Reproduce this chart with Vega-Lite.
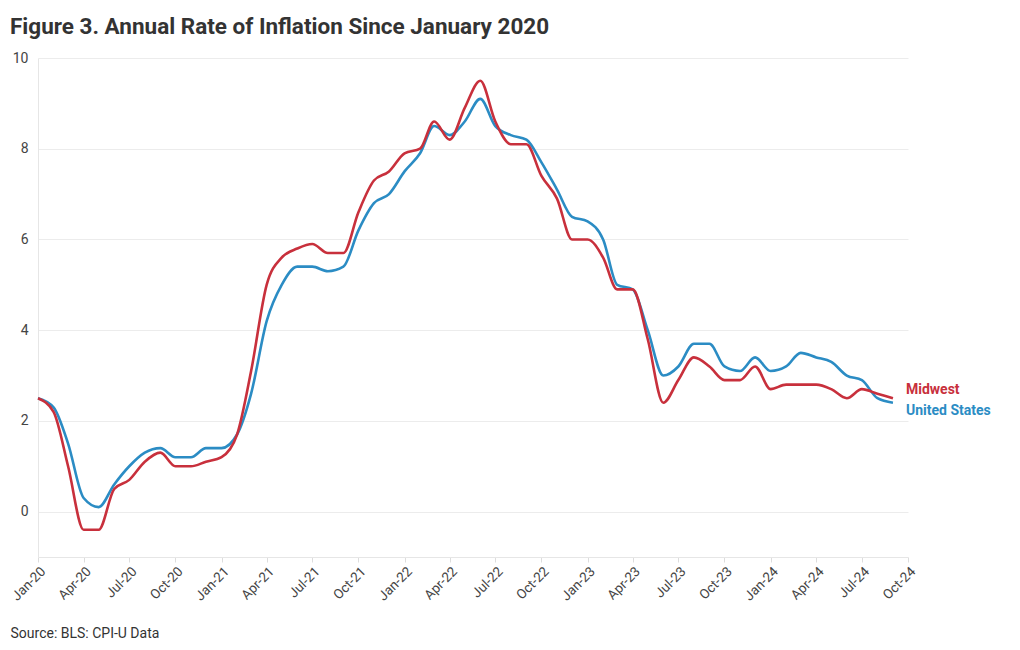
{
  "$schema": "https://vega.github.io/schema/vega-lite/v6.json",
  "width": 870,
  "height": 499,
  "autosize": {"type": "none"},
  "padding": {"left": 38, "top": 58, "right": 112, "bottom": 93},
  "background": "white",
  "config": {
    "view": {"stroke": null},
    "font": "Roboto"
  },
  "title": {
    "text": "Figure 3. Annual Rate of Inflation Since January 2020",
    "anchor": "start",
    "frame": "group",
    "dx": -28,
    "dy": 30,
    "offset": 25,
    "baseline": "alphabetic",
    "font": "Roboto",
    "fontSize": 22.5,
    "fontWeight": "bold",
    "color": "#333333"
  },
  "data": {
    "values": [
      {"date": "2020-01-01", "region": "United States", "value": 2.5},
      {"date": "2020-02-01", "region": "United States", "value": 2.3},
      {"date": "2020-03-01", "region": "United States", "value": 1.5},
      {"date": "2020-04-01", "region": "United States", "value": 0.3},
      {"date": "2020-05-01", "region": "United States", "value": 0.1},
      {"date": "2020-06-01", "region": "United States", "value": 0.6},
      {"date": "2020-07-01", "region": "United States", "value": 1.0},
      {"date": "2020-08-01", "region": "United States", "value": 1.3},
      {"date": "2020-09-01", "region": "United States", "value": 1.4},
      {"date": "2020-10-01", "region": "United States", "value": 1.2},
      {"date": "2020-11-01", "region": "United States", "value": 1.2},
      {"date": "2020-12-01", "region": "United States", "value": 1.4},
      {"date": "2021-01-01", "region": "United States", "value": 1.4},
      {"date": "2021-02-01", "region": "United States", "value": 1.7},
      {"date": "2021-03-01", "region": "United States", "value": 2.6},
      {"date": "2021-04-01", "region": "United States", "value": 4.2},
      {"date": "2021-05-01", "region": "United States", "value": 5.0},
      {"date": "2021-06-01", "region": "United States", "value": 5.4},
      {"date": "2021-07-01", "region": "United States", "value": 5.4},
      {"date": "2021-08-01", "region": "United States", "value": 5.3},
      {"date": "2021-09-01", "region": "United States", "value": 5.4},
      {"date": "2021-10-01", "region": "United States", "value": 6.2},
      {"date": "2021-11-01", "region": "United States", "value": 6.8},
      {"date": "2021-12-01", "region": "United States", "value": 7.0},
      {"date": "2022-01-01", "region": "United States", "value": 7.5},
      {"date": "2022-02-01", "region": "United States", "value": 7.9},
      {"date": "2022-03-01", "region": "United States", "value": 8.5},
      {"date": "2022-04-01", "region": "United States", "value": 8.3},
      {"date": "2022-05-01", "region": "United States", "value": 8.6},
      {"date": "2022-06-01", "region": "United States", "value": 9.1},
      {"date": "2022-07-01", "region": "United States", "value": 8.5},
      {"date": "2022-08-01", "region": "United States", "value": 8.3},
      {"date": "2022-09-01", "region": "United States", "value": 8.2},
      {"date": "2022-10-01", "region": "United States", "value": 7.7},
      {"date": "2022-11-01", "region": "United States", "value": 7.1},
      {"date": "2022-12-01", "region": "United States", "value": 6.5},
      {"date": "2023-01-01", "region": "United States", "value": 6.4},
      {"date": "2023-02-01", "region": "United States", "value": 6.0},
      {"date": "2023-03-01", "region": "United States", "value": 5.0},
      {"date": "2023-04-01", "region": "United States", "value": 4.9},
      {"date": "2023-05-01", "region": "United States", "value": 4.0},
      {"date": "2023-06-01", "region": "United States", "value": 3.0},
      {"date": "2023-07-01", "region": "United States", "value": 3.2},
      {"date": "2023-08-01", "region": "United States", "value": 3.7},
      {"date": "2023-09-01", "region": "United States", "value": 3.7},
      {"date": "2023-10-01", "region": "United States", "value": 3.2},
      {"date": "2023-11-01", "region": "United States", "value": 3.1},
      {"date": "2023-12-01", "region": "United States", "value": 3.4},
      {"date": "2024-01-01", "region": "United States", "value": 3.1},
      {"date": "2024-02-01", "region": "United States", "value": 3.2},
      {"date": "2024-03-01", "region": "United States", "value": 3.5},
      {"date": "2024-04-01", "region": "United States", "value": 3.4},
      {"date": "2024-05-01", "region": "United States", "value": 3.3},
      {"date": "2024-06-01", "region": "United States", "value": 3.0},
      {"date": "2024-07-01", "region": "United States", "value": 2.9},
      {"date": "2024-08-01", "region": "United States", "value": 2.5},
      {"date": "2024-09-01", "region": "United States", "value": 2.4},
      {"date": "2020-01-01", "region": "Midwest", "value": 2.5},
      {"date": "2020-02-01", "region": "Midwest", "value": 2.2},
      {"date": "2020-03-01", "region": "Midwest", "value": 1.0},
      {"date": "2020-04-01", "region": "Midwest", "value": -0.4},
      {"date": "2020-05-01", "region": "Midwest", "value": -0.4},
      {"date": "2020-06-01", "region": "Midwest", "value": 0.5},
      {"date": "2020-07-01", "region": "Midwest", "value": 0.7},
      {"date": "2020-08-01", "region": "Midwest", "value": 1.1},
      {"date": "2020-09-01", "region": "Midwest", "value": 1.3},
      {"date": "2020-10-01", "region": "Midwest", "value": 1.0},
      {"date": "2020-11-01", "region": "Midwest", "value": 1.0},
      {"date": "2020-12-01", "region": "Midwest", "value": 1.1},
      {"date": "2021-01-01", "region": "Midwest", "value": 1.2},
      {"date": "2021-02-01", "region": "Midwest", "value": 1.7},
      {"date": "2021-03-01", "region": "Midwest", "value": 3.1},
      {"date": "2021-04-01", "region": "Midwest", "value": 5.0},
      {"date": "2021-05-01", "region": "Midwest", "value": 5.6},
      {"date": "2021-06-01", "region": "Midwest", "value": 5.8},
      {"date": "2021-07-01", "region": "Midwest", "value": 5.9},
      {"date": "2021-08-01", "region": "Midwest", "value": 5.7},
      {"date": "2021-09-01", "region": "Midwest", "value": 5.7},
      {"date": "2021-10-01", "region": "Midwest", "value": 6.6},
      {"date": "2021-11-01", "region": "Midwest", "value": 7.3},
      {"date": "2021-12-01", "region": "Midwest", "value": 7.5},
      {"date": "2022-01-01", "region": "Midwest", "value": 7.9},
      {"date": "2022-02-01", "region": "Midwest", "value": 8.0},
      {"date": "2022-03-01", "region": "Midwest", "value": 8.6},
      {"date": "2022-04-01", "region": "Midwest", "value": 8.2},
      {"date": "2022-05-01", "region": "Midwest", "value": 8.9},
      {"date": "2022-06-01", "region": "Midwest", "value": 9.5},
      {"date": "2022-07-01", "region": "Midwest", "value": 8.6},
      {"date": "2022-08-01", "region": "Midwest", "value": 8.1},
      {"date": "2022-09-01", "region": "Midwest", "value": 8.1},
      {"date": "2022-10-01", "region": "Midwest", "value": 7.4},
      {"date": "2022-11-01", "region": "Midwest", "value": 6.9},
      {"date": "2022-12-01", "region": "Midwest", "value": 6.0},
      {"date": "2023-01-01", "region": "Midwest", "value": 6.0},
      {"date": "2023-02-01", "region": "Midwest", "value": 5.6},
      {"date": "2023-03-01", "region": "Midwest", "value": 4.9},
      {"date": "2023-04-01", "region": "Midwest", "value": 4.9},
      {"date": "2023-05-01", "region": "Midwest", "value": 3.8},
      {"date": "2023-06-01", "region": "Midwest", "value": 2.4},
      {"date": "2023-07-01", "region": "Midwest", "value": 2.9},
      {"date": "2023-08-01", "region": "Midwest", "value": 3.4},
      {"date": "2023-09-01", "region": "Midwest", "value": 3.2},
      {"date": "2023-10-01", "region": "Midwest", "value": 2.9},
      {"date": "2023-11-01", "region": "Midwest", "value": 2.9},
      {"date": "2023-12-01", "region": "Midwest", "value": 3.2},
      {"date": "2024-01-01", "region": "Midwest", "value": 2.7},
      {"date": "2024-02-01", "region": "Midwest", "value": 2.8},
      {"date": "2024-03-01", "region": "Midwest", "value": 2.8},
      {"date": "2024-04-01", "region": "Midwest", "value": 2.8},
      {"date": "2024-05-01", "region": "Midwest", "value": 2.7},
      {"date": "2024-06-01", "region": "Midwest", "value": 2.5},
      {"date": "2024-07-01", "region": "Midwest", "value": 2.7},
      {"date": "2024-08-01", "region": "Midwest", "value": 2.6},
      {"date": "2024-09-01", "region": "Midwest", "value": 2.5}
    ]
  },
  "encoding": {
    "x": {
      "field": "date",
      "type": "temporal",
      "scale": {
        "type": "utc",
        "domain": [
          {"year": 2020, "month": 1, "date": 1, "utc": true},
          {"year": 2024, "month": 10, "date": 1, "utc": true}
        ]
      },
      "axis": {
        "tickCount": {"interval": "month", "step": 3},
        "labelExpr": "utcFormat(datum.value, '%b-%y')",
        "labelAngle": -45,
        "labelFontSize": 13.5,
        "labelColor": "#444444",
        "labelFont": "Roboto",
        "labelPadding": 2,
        "labelFlush": false,
        "labelOverlap": false,
        "grid": false,
        "domainColor": "#e6e6e6",
        "tickColor": "#dddddd",
        "tickSize": 5,
        "title": "Source: BLS: CPI-U Data",
        "titleAnchor": "start",
        "titleAlign": "left",
        "titleBaseline": "alphabetic",
        "titleX": -28,
        "titleY": 80,
        "titleFont": "Roboto",
        "titleFontSize": 14,
        "titleFontWeight": "normal",
        "titleColor": "#333333"
      }
    },
    "y": {
      "field": "value",
      "type": "quantitative",
      "scale": {"domain": [-1, 10], "nice": false, "zero": false},
      "axis": {
        "values": [0, 2, 4, 6, 8, 10],
        "title": null,
        "ticks": false,
        "grid": true,
        "gridColor": "#ececec",
        "domainColor": "#e6e6e6",
        "labelFontSize": 14,
        "labelColor": "#444444",
        "labelFont": "Roboto",
        "labelPadding": 10
      }
    },
    "color": {
      "field": "region",
      "type": "nominal",
      "scale": {"domain": ["Midwest", "United States"], "range": ["#C8303C", "#2B8CC4"]},
      "legend": null
    }
  },
  "layer": [
    {
      "mark": {"type": "line", "interpolate": "monotone", "strokeWidth": 2.6}
    },
    {
      "transform": [{"filter": "datum.region == 'Midwest' && time(datum.date) == time('2024-09-01')"}],
      "mark": {"type": "text", "align": "left", "baseline": "middle", "dx": 13, "dy": -8, "fontSize": 14, "fontWeight": "bold", "font": "Roboto"},
      "encoding": {"text": {"field": "region"}}
    },
    {
      "transform": [{"filter": "datum.region == 'United States' && time(datum.date) == time('2024-09-01')"}],
      "mark": {"type": "text", "align": "left", "baseline": "middle", "dx": 13, "dy": 8, "fontSize": 14, "fontWeight": "bold", "font": "Roboto"},
      "encoding": {"text": {"field": "region"}}
    }
  ]
}
